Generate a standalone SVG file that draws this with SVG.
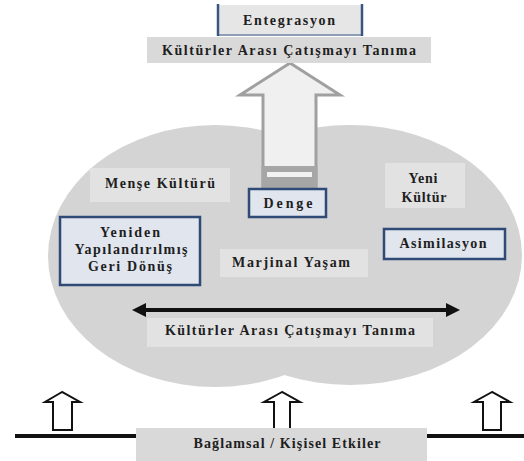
<svg xmlns="http://www.w3.org/2000/svg" width="524" height="461" viewBox="0 0 524 461">
<defs>
<style>
text{font-family:"Liberation Serif","Times New Roman",serif;font-weight:bold;font-size:14px;fill:#1e1e1e;text-anchor:middle}
.blue{fill:#e0e5ee;stroke:#2f4a75;stroke-width:2.5}
.soft{fill:#e2e2e2}
.band{fill:#d9d9d9}
.hollow{fill:#ffffff;stroke:#111;stroke-width:2}
</style>
<marker id="ah" markerUnits="userSpaceOnUse" markerWidth="14" markerHeight="14" refX="2" refY="7" orient="auto-start-reverse">
<path d="M0,0 L14,7 L0,14 z" fill="#111"/>
</marker>
</defs>
<rect width="524" height="461" fill="#ffffff"/>
<g id="cloud">
<ellipse cx="215" cy="256" rx="167" ry="131" fill="#d4d4d4"/>
<ellipse cx="350" cy="255" rx="172" ry="130" fill="#d4d4d4"/>
</g>
<g id="connectors">
<path d="M290,63 L340,95 L316,95 L316,189 L263,189 L263,95 L240,95 Z" fill="#f0f0f0" stroke="#a0a0a0" stroke-width="3"/>
<rect x="261.5" y="166" width="56" height="23" fill="#a6a6a6"/>
<rect x="267" y="172" width="45" height="5" fill="#f2f2f2"/>
<line x1="144" y1="310" x2="448" y2="310" stroke="#111" stroke-width="4" marker-start="url(#ah)" marker-end="url(#ah)"/>
<line x1="15" y1="436" x2="136" y2="436" stroke="#111" stroke-width="4"/>
<line x1="427" y1="436" x2="524" y2="436" stroke="#111" stroke-width="4"/>
<path class="hollow" d="M62,392 L45,402 L53,402 L53,430 L72,430 L72,402 L80,402 Z"/>
<path class="hollow" d="M282,392 L264,402 L274,402 L274,430 L290,430 L290,402 L300,402 Z"/>
<path class="hollow" d="M492,392 L474,402 L483,402 L483,430 L501,430 L501,402 L510,402 Z"/>
</g>
<g id="entegrasyon">
<rect x="218" y="5" width="144" height="30" fill="#e6e6e6"/>
<line x1="218" y1="35" x2="362" y2="35" stroke="#8d9db6" stroke-width="2"/>
<line x1="218" y1="4" x2="218" y2="36" stroke="#3a5680" stroke-width="2.5"/>
<line x1="362" y1="4" x2="362" y2="36" stroke="#3a5680" stroke-width="2.5"/>
<text x="289" y="25" textLength="92" lengthAdjust="spacing">Entegrasyon</text>
</g>
<g id="tanima-top">
<rect class="band" x="147" y="37" width="284" height="26"/>
<text x="289" y="55" textLength="254" lengthAdjust="spacing">Kültürler Arası Çatışmayı Tanıma</text>
</g>
<g id="mense">
<rect class="soft" x="90" y="168" width="140" height="34"/>
<text x="160" y="188" textLength="110" lengthAdjust="spacing">Menşe Kültürü</text>
</g>
<g id="yeniden">
<rect class="blue" x="60" y="217" width="140" height="68"/>
<text x="130" y="237" textLength="60" lengthAdjust="spacing">Yeniden</text>
<text x="131" y="254" textLength="113" lengthAdjust="spacing">Yapılandırılmış</text>
<text x="130" y="271" textLength="84" lengthAdjust="spacing">Geri Dönüş</text>
</g>
<g id="denge">
<rect class="blue" x="249" y="189" width="77" height="28"/>
<text x="288" y="208" textLength="49" lengthAdjust="spacing">Denge</text>
</g>
<g id="marjinal">
<rect class="soft" x="220" y="249" width="148" height="28"/>
<text x="291" y="267" textLength="118" lengthAdjust="spacing">Marjinal Yaşam</text>
</g>
<g id="yeni">
<rect class="soft" x="385" y="163" width="80" height="45"/>
<text x="423" y="183" textLength="29" lengthAdjust="spacing">Yeni</text>
<text x="424" y="202" textLength="45" lengthAdjust="spacing">Kültür</text>
</g>
<g id="asimilasyon">
<rect class="blue" x="384" y="229" width="121" height="30"/>
<text x="443" y="248" textLength="87" lengthAdjust="spacing">Asimilasyon</text>
</g>
<g id="tanima-bottom">
<rect class="soft" x="147" y="318" width="286" height="29"/>
<text x="290" y="335" textLength="250" lengthAdjust="spacing">Kültürler Arası Çatışmayı Tanıma</text>
</g>
<g id="baglamsal">
<rect class="band" x="136" y="428" width="291" height="33"/>
<text x="287" y="448" textLength="187" lengthAdjust="spacing">Bağlamsal / Kişisel Etkiler</text>
</g>
</svg>
